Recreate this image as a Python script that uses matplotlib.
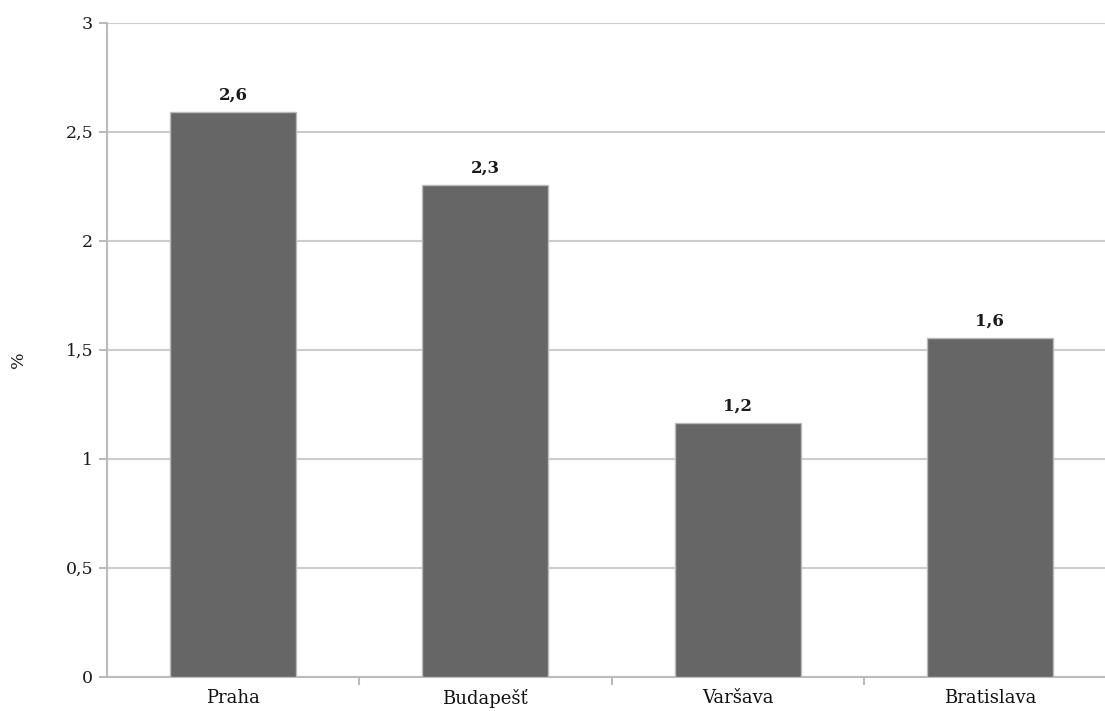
import numpy as np
import matplotlib.pyplot as plt

cities = ["Praha", "Budapešť", "Varšava", "Bratislava"]
values = [2.59, 2.255, 1.165, 1.555]
labels = ["2,6", "2,3", "1,2", "1,6"]
yticks = [0, 0.5, 1, 1.5, 2, 2.5, 3]
ytick_labels = ["0", "0,5", "1", "1,5", "2", "2,5", "3"]

plt.rcParams['font.family'] = ['DejaVu Serif']

fig = plt.figure(figsize=(11.05, 7.11), dpi=100)
# plot area runs a bit past the right edge, like the original crop
ax = fig.add_axes([107 / 1105, 34.5 / 711, 1009 / 1105, 654 / 711])

x = np.arange(len(cities))
ax.bar(x, values, width=0.5, color="#666666", edgecolor="#bbbbbb", linewidth=1, zorder=3)

for xi, v, lab in zip(x, values, labels):
    ax.annotate(lab, (xi, v), xytext=(0, 6), textcoords="offset points",
                ha="center", va="bottom", fontsize=12, fontweight="bold", color="#1a1a1a")

ax.set_xlim(-0.5, len(cities) - 0.5)
ax.set_ylim(0, 3)
ax.set_yticks(yticks)
ax.set_yticklabels(ytick_labels, fontsize=12.5, color="#1a1a1a")
ax.yaxis.grid(True, color="#cccccc", linewidth=1.5, zorder=0)
ax.set_axisbelow(True)

# category labels centred, tick marks on the category boundaries
ax.set_xticks(x)
ax.set_xticklabels(cities, fontsize=13, color="#111111")
ax.tick_params(axis="x", which="major", length=0, pad=9)
ax.set_xticks(np.arange(0.5, len(cities) - 0.5, 1), minor=True)
ax.tick_params(axis="x", which="minor", length=6, width=1.5, color="#bbbbbb", direction="out")
ax.tick_params(axis="y", length=6, width=1.5, color="#bbbbbb", pad=4)

for side in ["top", "right"]:
    ax.spines[side].set_visible(False)
for side in ["left", "bottom"]:
    ax.spines[side].set_color("#bbbbbb")
    ax.spines[side].set_linewidth(1.5)

fig.text(18 / 1105, 1 - 360 / 711, "%", rotation=90, ha="center", va="center",
         fontsize=12.5, color="#1a1a1a")

fig.savefig("out.png", dpi=100)
